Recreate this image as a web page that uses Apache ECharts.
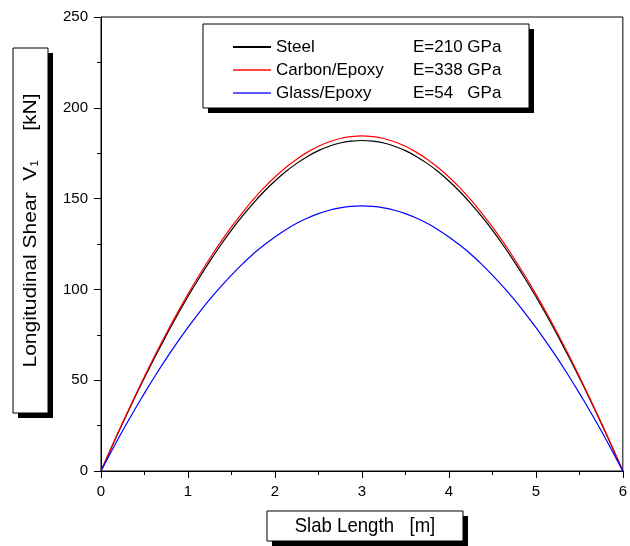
<!DOCTYPE html>
<html>
<head>
<meta charset="utf-8">
<script src="https://cdn.jsdelivr.net/npm/echarts@6/dist/echarts.min.js"></script>
<style>html,body{margin:0;padding:0;background:#fff;}#c{width:630px;height:546px;}</style>
</head>
<body>
<div id="c"></div>
<script>
const xs = [0,0.125,0.25,0.375,0.5,0.625,0.75,0.875,1,1.125,1.25,1.375,1.5,1.625,1.75,1.875,2,2.125,2.25,2.375,2.5,2.625,2.75,2.875,3,
  3.125,3.25,3.375,3.5,3.625,3.75,3.875,4,4.125,4.25,4.375,4.5,4.625,4.75,4.875,5,5.125,5.25,5.375,5.5,5.625,5.75,5.875,6];
const steel  = [0,13.4,26.4,39.1,51.4,63.2,74.6,85.6,96.1,106.0,115.4,124.3,132.6,140.3,147.4,153.9,159.7,164.9,169.4,173.2,176.4,178.8,180.6,181.6,182,
  181.6,180.6,178.8,176.4,173.2,169.4,164.9,159.7,153.9,147.4,140.3,132.6,124.3,115.4,106.0,96.1,85.6,74.6,63.2,51.4,39.1,26.4,13.4,0];
const carbon = [0,13.6,26.8,39.6,52.1,64.1,75.7,86.8,97.4,107.5,117.0,126.0,134.4,142.2,149.4,156.0,161.9,167.1,171.7,175.6,178.8,181.3,183.1,184.1,184.5,
  184.1,183.1,181.3,178.8,175.6,171.7,167.1,161.9,156.0,149.4,142.2,134.4,126.0,117.0,107.5,97.4,86.8,75.7,64.1,52.1,39.6,26.8,13.6,0];
const glass  = [0,11.3,22.3,32.8,42.9,52.6,61.9,70.7,79.1,87.0,94.5,101.4,107.9,113.9,119.5,124.4,128.9,132.9,136.4,139.3,141.7,143.6,144.9,145.7,146,
  145.7,144.9,143.6,141.7,139.3,136.4,132.9,128.9,124.4,119.5,113.9,107.9,101.4,94.5,87.0,79.1,70.7,61.9,52.6,42.9,32.8,22.3,11.3,0];
const seriesNames = ['Steel','Carbon/Epoxy','Glass/Epoxy'];
const moduli = ['E=210 GPa','E=338 GPa','E=54   GPa'];
const colors = ['#000000','#ff0000','#0000ff'];
const legendColors = ['#000000','#ff4a4a','#5a5aff'];
const xTitle = 'Slab Length   [m]';
const yTitleMain = 'Longitudinal Shear  V';
const yTitleSub = '1';
const yTitleUnit = '     [kN]';

const font = 'Liberation Sans, Arial, sans-serif';
const pairs = arr => xs.map((x,i)=>[x,arr[i]]);
const allData = [steel, carbon, glass];

const chart = echarts.init(document.getElementById('c'), null, {renderer:'canvas'});
chart.setOption({
  backgroundColor:'#fff',
  animation:false,
  color:colors,
  textStyle:{fontFamily:font},
  grid:{left:101,right:2,top:17,bottom:75,show:true,borderColor:'#000',borderWidth:1,containLabel:false},
  xAxis:{type:'value',min:0,max:6,interval:1,
    axisLine:{lineStyle:{color:'#000',width:1}},
    axisTick:{show:true,inside:false,length:7,lineStyle:{color:'#000'}},
    minorTick:{show:true,splitNumber:2,length:4,lineStyle:{color:'#000'}},
    splitLine:{show:false},
    axisLabel:{color:'#000',fontSize:15,margin:13,fontFamily:font}},
  yAxis:{type:'value',min:0,max:250,interval:50,
    axisLine:{show:true,lineStyle:{color:'#000',width:1}},
    axisTick:{show:true,inside:false,length:7,lineStyle:{color:'#000'}},
    minorTick:{show:true,splitNumber:2,length:4,lineStyle:{color:'#000'}},
    splitLine:{show:false},
    axisLabel:{color:'#000',fontSize:15,margin:13,fontFamily:font}},
  legend:{
    orient:'vertical',left:233,top:38.5,padding:0,itemGap:6,
    icon:'rect',itemWidth:38,itemHeight:2,
    data:seriesNames.map((n,i)=>({name:n,itemStyle:{color:legendColors[i]}})),
    formatter:function(name){const i=seriesNames.indexOf(name);return '{a|'+name+'}{b|'+moduli[i]+'}';},
    textStyle:{color:'#000',fontSize:17,fontFamily:font,lineHeight:17,
      rich:{a:{width:137,fontSize:17,fontFamily:font,color:'#000'},b:{fontSize:17,fontFamily:font,color:'#000'}}}
  },
  graphic:[
    {type:'rect',shape:{x:208,y:29,width:326,height:84},style:{fill:'#000'},z:1},
    {type:'rect',shape:{x:203,y:24,width:326,height:84},style:{fill:'#fff',stroke:'#000',lineWidth:1},z:2},
    {type:'rect',shape:{x:18,y:53,width:35,height:365},style:{fill:'#000'},z:1},
    {type:'rect',shape:{x:13,y:48,width:35,height:365},style:{fill:'#fff',stroke:'#000',lineWidth:1},z:2},
    {type:'text',x:31,y:230.5,rotation:Math.PI/2,scaleX:1.2,z:3,
      style:{text:'{m|'+yTitleMain+'}{s|'+yTitleSub+'}{m|'+yTitleUnit+'}',align:'center',verticalAlign:'middle',
        rich:{m:{fontSize:17.5,fontFamily:font,fill:'#000'},s:{fontSize:10,fontFamily:font,fill:'#000',padding:[8,0,0,0]}}}},
    {type:'rect',shape:{x:272,y:516,width:196,height:30},style:{fill:'#000'},z:1},
    {type:'rect',shape:{x:267,y:511,width:196,height:30},style:{fill:'#fff',stroke:'#000',lineWidth:1},z:2},
    {type:'text',x:365,y:526.5,scaleY:1.12,z:3,
      style:{text:xTitle,fontSize:18.6,fontFamily:font,fill:'#000',align:'center',verticalAlign:'middle'}}
  ],
  series: seriesNames.map((n,i)=>({
    name:n,type:'line',data:pairs(allData[i]),smooth:0.3,showSymbol:false,symbol:'none',
    lineStyle:{color:colors[i],width:1.2},itemStyle:{color:colors[i]},z:2+i
  }))
});
</script>
</body>
</html>
